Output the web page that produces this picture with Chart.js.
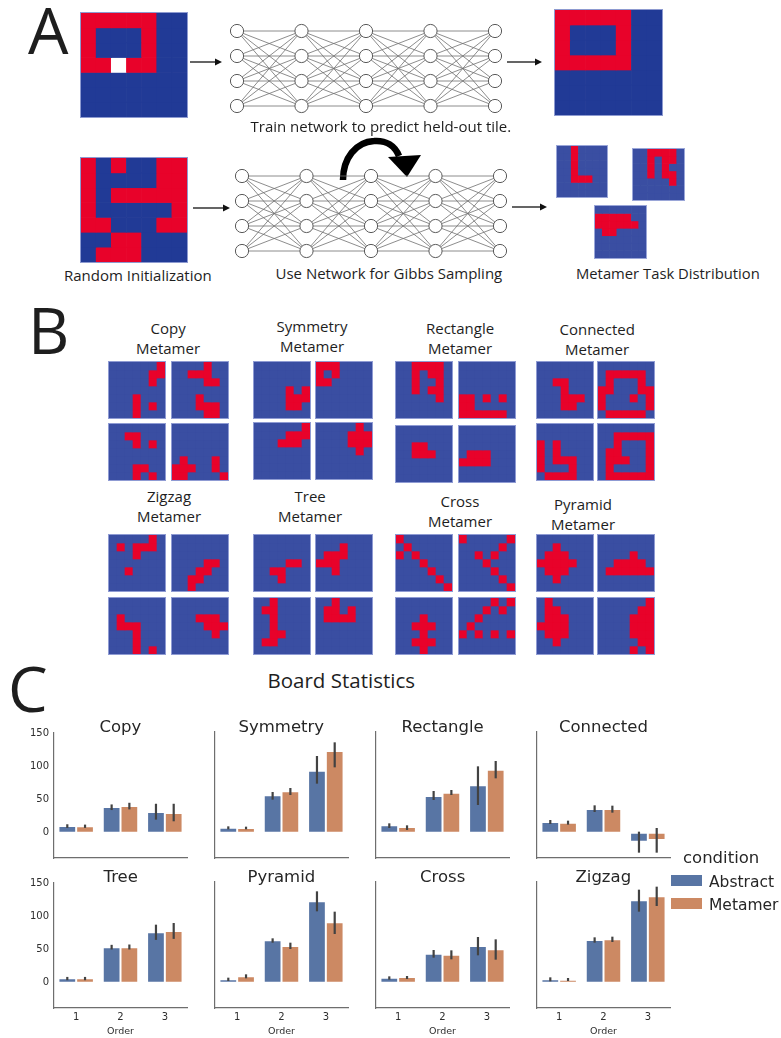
<!DOCTYPE html>
<html>
<head>
<meta charset="utf-8">
<script src="https://cdn.jsdelivr.net/npm/chart.js@4.4.1/dist/chart.umd.min.js"></script>
<style>
  html, body { margin: 0; padding: 0; background: #fff; }
  body { width: 781px; height: 1038px; position: relative; overflow: hidden; }
  .abs { position: absolute; }
  canvas { display: block; }
  .txt { position: absolute; white-space: nowrap; line-height: 1; }
</style>
</head>
<body>
<svg id="connectors" class="abs" width="781" height="300" style="left:0;top:0"></svg>
<script>
// ---------- Panel A boards (7x7; R = red tile, . = blue tile, W = held-out tile) ----------
const HELD_OUT_BOARD  = ['RRRRR..','R...R..','R...R..','RRWRR..','.......','.......','.......'];
const COMPLETED_BOARD = ['RRRRR..','R...R..','R...R..','RRRRR..','.......','.......','.......'];
const RANDOM_INIT_BOARD = ['R.R..RR','R....RR','R.RRRRR','R.....R','RR...RR','..RR...','.RRR...'];
const SAMPLED_BOARDS = [
  ['..R....','..R....','..R....','..R....','..RRR..','.......','.......'],
  ['..RRRR.','..R.RR.','..R.R..','..R.RR.','.....R.','.......','.......'],
  ['.......','RRRRR..','RRRRRR.','.RR....','.......','.......','.......']
];
const LAYER_SIZES = [4, 4, 4, 4, 4];

// ---------- Panel B metamer boards ----------
const COPY_BOARDS = [
  ['......R','.....RR','.....R.','.......','...R...','...R.R.','...R...'],
  ['....R..','..RRR..','....RR.','.......','...R...','...RRR.','....RR.'],
  ['.......','..RR...','...R.R.','.......','.......','...RR..','...R.R.'],
  ['.......','.......','.......','.......','.R...R.','RRR..R.','RR....R']
];
const SYMMETRY_BOARDS = [
  ['.......','.......','.......','....R.R','....RRR','....RR.','.......'],
  ['RRR....','R.R....','RR.....','.......','.......','.......','.......'],
  ['......R','....RRR','...RRR.','.......','.......','.......','.......'],
  ['.....R.','....RRR','....RRR','.....R.','.......','.......','.......']
];
const RECTANGLE_BOARDS = [
  ['..RRRR.','..R.RR.','..R..R.','..R.RR.','.....R.','.......','.......'],
  ['.......','.......','.......','.......','RR.R.R.','RR.....','RRRRRR.'],
  ['.......','.......','..RR...','..RRR..','.......','.......','.......'],
  ['.......','.......','.......','.RRR...','RRRR...','.......','.......']
];
const CONNECTED_BOARDS = [
  ['.......','.......','..RR...','...R...','...RRR.','...RR..','.......'],
  ['.......','.RRRRR.','.R...R.','RR...RR','R...R.R','R.....R','.RRRRR.'],
  ['.......','.......','R.R....','R.R....','R.RRR..','R...R..','.RRRR..'],
  ['.......','..RRRRR','..R...R','.RR...R','.RRR..R','.R....R','.RRRRRR']
];
const ZIGZAG_BOARDS = [
  ['.....R.','.R.RRR.','...R...','.......','..R....','.......','.......'],
  ['.......','.......','.......','....RR.','...RR..','..RR...','..R....'],
  ['.......','.......','.R.....','.RRR...','...R...','...R...','...R.R.'],
  ['.......','.......','...RRR.','....RRR','.....R.','.......','.......']
];
const TREE_BOARDS = [
  ['.......','.......','.......','....RR.','..RR...','...R...','.......'],
  ['.......','...R...','.RRR...','RRR....','..R....','.......','.......'],
  ['..R....','.RR....','..R....','..R....','..RR...','.RR....','.......'],
  ['..R....','.RR.R..','.RRRR..','.......','.......','.......','.......']
];
const CROSS_BOARDS = [
  ['R......','.R.....','R.R....','...R...','....R..','.....R.','......R'],
  ['R.....R','.....R.','..R.R..','...R...','....R..','.....R.','......R'],
  ['.......','.......','...R...','..RRR..','...R...','..RRR..','...R...'],
  ['....R.R','...R.R.','..R....','.R.....','R.R.R.R','.......','.......']
];
const PYRAMID_BOARDS = [
  ['.......','..R....','.RRR...','RRRRR..','.RRR...','..R....','.......'],
  ['.......','.......','....R..','..RRRR.','.RRRRRR','.......','.......'],
  ['.R.....','.RR....','.RRR...','RRRR...','.RRR...','..R....','.......'],
  ['......R','.....RR','....RRR','....RRR','....RRR','.....RR','....R.R']
];

// ---------- Panel C: board statistics ----------
const TASKS  = ['Copy', 'Symmetry', 'Rectangle', 'Connected', 'Tree', 'Pyramid', 'Cross', 'Zigzag'];
const ORDERS = ['1', '2', '3'];
const Y_TICKS = [0, 50, 100, 150];
const CONDITIONS = ['Abstract', 'Metamer'];
const ABSTRACT_MEAN = [[10.5, 39, 31.5], [7.5, 56, 93], [11, 55, 71], [16, 35.5, -13.5],
                       [7, 54, 76.5], [5, 63.5, 122], [7.5, 43.5, 55], [5, 64, 123.5]];
const ABSTRACT_LO   = [[7.5, 34.5, 20], [5, 49.5, 73.5], [7, 49, 41.5], [13, 31, -30],
                       [4, 50.5, 65], [2.5, 60, 107], [4.5, 37.5, 41], [2, 60, 106.5]];
const ABSTRACT_HI   = [[13, 43, 44], [9.5, 61, 115], [14, 62.5, 99.5], [19, 41, 1.5],
                       [9, 57.5, 88], [7.5, 66.5, 137], [9.5, 49, 68.5], [8, 68, 139.5]];
const METAMER_MEAN  = [[10, 40.5, 30], [7, 62, 122.5], [8.5, 60, 94.5], [15, 35.5, -11],
                       [7, 54, 78.5], [9.5, 55, 90.5], [8.5, 42, 50], [4.5, 65, 129.5]];
const METAMER_LO    = [[7.5, 35.5, 17.5], [5, 56.5, 98], [4, 56.5, 81.5], [12, 30, -30],
                       [4, 50.5, 66.5], [6.5, 50.5, 73], [5.5, 35, 34.5], [2.5, 61, 115]];
const METAMER_HI    = [[12.5, 45.5, 44], [9, 67, 135.5], [11, 64, 107.5], [18, 40.5, 7],
                       [9, 58, 90.5], [12.5, 60, 106.5], [10, 48.5, 65], [7, 69, 144]];

// ---------- colours ----------
const RED = '#e8022a';
const BLUE_DARK = '#213a96';
const BLUE = '#3a4ea2';
const BAR_BLUE = '#5875a4';
const BAR_ORANGE = '#cc8963';
const ERR_COLOR = '#424242';
const SPINE = '#6e6e6e';
const TICK = '#2e2e2e';
const INK = '#1e1e1e';

Chart.defaults.animation = false;
Chart.defaults.responsive = false;
Chart.defaults.devicePixelRatio = 1;
Chart.defaults.events = [];
Chart.defaults.plugins.legend.display = false;
Chart.defaults.plugins.tooltip.enabled = false;

function makeCanvas(x, y, w, h) {
  const cv = document.createElement('canvas');
  cv.width = w; cv.height = h;
  cv.className = 'abs';
  cv.style.left = x + 'px'; cv.style.top = y + 'px';
  document.body.appendChild(cv);
  return cv;
}

// Text placed by its baseline
function place(text, o) {
  const d = document.createElement('div');
  d.className = 'txt';
  d.style.font = `${o.weight || 400} ${o.size}px ${o.family}`;
  d.style.color = o.color || INK;
  if (o.spacing) d.style.letterSpacing = o.spacing + 'px';
  d.appendChild(document.createTextNode(text));
  const probe = document.createElement('span');
  probe.style.cssText = 'display:inline-block;width:0;height:0;vertical-align:baseline';
  d.appendChild(probe);
  document.body.appendChild(d);
  const base = probe.offsetTop;
  const w = d.offsetWidth;
  const align = o.align || 'left';
  const left = align === 'center' ? o.x - w / 2 : align === 'right' ? o.x - w : o.x;
  d.style.left = left + 'px';
  d.style.top = (o.baseline - base) + 'px';
  d.style.zIndex = 5;
  return d;
}

// A board: one stacked bar per tile column, one dataset per tile row
function drawBoard(rows, x, y, w, h, blue, border) {
  const holder = document.createElement('div');
  holder.className = 'abs';
  holder.style.cssText = `left:${x}px;top:${y}px;width:${w}px;height:${h}px;box-sizing:border-box;border:1px solid ${border};`;
  const cv = document.createElement('canvas');
  cv.width = w - 2; cv.height = h - 2;
  holder.appendChild(cv);
  document.body.appendChild(holder);
  const palette = { 'R': RED, '.': blue, 'W': '#ffffff' };
  const nRows = rows.length;
  const datasets = rows.map(row => ({
    data: Array.from(row, () => 1),
    backgroundColor: Array.from(row, ch => palette[ch]),
    borderWidth: 0,
    stack: 'board'
  }));
  new Chart(cv, {
    type: 'bar',
    data: { labels: Array.from(rows[0], (_, c) => String(c)), datasets },
    options: {
      layout: { padding: 0 },
      datasets: { bar: { categoryPercentage: 1, barPercentage: 1 } },
      scales: {
        x: { display: false, stacked: true, offset: true },
        y: { display: false, stacked: true, min: 0, max: nRows, reverse: true }
      }
    }
  });
}

// Fully connected network diagram
function drawNetwork(x, y, w, h) {
  const pad = 12;
  const cv = makeCanvas(x - pad, y - pad, w + 2 * pad, h + 2 * pad);
  const nodes = [];
  const edges = [];
  const maxN = Math.max(...LAYER_SIZES);
  LAYER_SIZES.forEach((n, l) => { for (let i = 0; i < n; i++) nodes.push({ x: l, y: i }); });
  for (let l = 0; l < LAYER_SIZES.length - 1; l++) {
    for (let i = 0; i < LAYER_SIZES[l]; i++) {
      for (let j = 0; j < LAYER_SIZES[l + 1]; j++) {
        edges.push({ x: l, y: i }, { x: l + 1, y: j }, { x: l, y: null });
      }
    }
  }
  new Chart(cv, {
    type: 'scatter',
    data: {
      datasets: [
        { data: nodes, order: 0, pointRadius: 6.6, pointBackgroundColor: '#ffffff',
          pointBorderColor: '#5a5a5a', pointBorderWidth: 1, showLine: false, clip: false },
        { data: edges, order: 1, pointRadius: 0, showLine: true, spanGaps: false,
          borderColor: '#707070', borderWidth: 0.8, clip: false }
      ]
    },
    options: {
      layout: { padding: pad },
      scales: {
        x: { display: false, type: 'linear', min: 0, max: LAYER_SIZES.length - 1 },
        y: { display: false, type: 'linear', min: 0, max: maxN - 1, reverse: true }
      }
    }
  });
}

// ---------------- Panel A ----------------
place('A', { x: 28, baseline: 54, size: 64, family: 'Open Sans' });
drawBoard(HELD_OUT_BOARD, 80, 12, 108, 106, BLUE_DARK, '#8d9ad0');
drawBoard(COMPLETED_BOARD, 554, 9, 109, 107, BLUE_DARK, '#8d9ad0');
drawBoard(RANDOM_INIT_BOARD, 80, 157, 108, 106, BLUE_DARK, '#8d9ad0');
drawBoard(SAMPLED_BOARDS[0], 556, 145, 52, 53, BLUE, '#9aa6d8');
drawBoard(SAMPLED_BOARDS[1], 632, 148, 53, 53, BLUE, '#9aa6d8');
drawBoard(SAMPLED_BOARDS[2], 594, 205, 53, 54, BLUE, '#9aa6d8');
drawNetwork(237, 31, 258, 75);
drawNetwork(242, 176, 258, 75);

place('Train network to predict held-out tile.', { x: 381, baseline: 132, size: 15, family: 'Open Sans', align: 'center' });
place('Random Initialization', { x: 138, baseline: 280.5, size: 15, family: 'Open Sans', align: 'center' });
place('Use Network for Gibbs Sampling', { x: 389, baseline: 279, size: 15, family: 'Open Sans', align: 'center' });
place('Metamer Task Distribution', { x: 668, baseline: 279, size: 14.8, family: 'Open Sans', align: 'center' });

// straight connectors and the sampling loop arrow
(function () {
  const svg = document.getElementById('connectors');
  const links = [[190, 62, 222, 62], [507, 62, 542, 62], [193, 208, 230, 208], [512, 207, 547, 207]];
  let s = '';
  links.forEach(([x1, y1, x2, y2]) => {
    s += `<line x1="${x1}" y1="${y1}" x2="${x2 - 6}" y2="${y2}" stroke="#111" stroke-width="1.3"/>`;
    s += `<polygon points="${x2},${y2} ${x2 - 7},${y2 - 3.5} ${x2 - 7},${y2 + 3.5}" fill="#111"/>`;
  });
  s += '<path d="M343,180 C343,158 356,142 374,141 C386,140 395,146 399,156" stroke="#000" stroke-width="6.5" fill="none"/>';
  s += '<polygon points="388,157 421,155 407,177" fill="#000"/>';
  svg.innerHTML = s;
})();

// ---------------- Panel B ----------------
place('B', { x: 28, baseline: 354, size: 64, family: 'Open Sans' });
const GROUPS = [
  { name: 'Copy',      boards: COPY_BOARDS,      cx: 168, base: 334, xs: [108, 171], ys: [361, 423] },
  { name: 'Symmetry',  boards: SYMMETRY_BOARDS,  cx: 312, base: 331.5, xs: [253, 315], ys: [361, 422] },
  { name: 'Rectangle', boards: RECTANGLE_BOARDS, cx: 460, base: 334, xs: [395, 458], ys: [361, 425] },
  { name: 'Connected', boards: CONNECTED_BOARDS, cx: 597, base: 335, xs: [536, 597], ys: [361, 423] },
  { name: 'Zigzag',    boards: ZIGZAG_BOARDS,    cx: 169, base: 502, xs: [108, 171], ys: [534, 597] },
  { name: 'Tree',      boards: TREE_BOARDS,      cx: 310, base: 502, xs: [253, 315], ys: [534, 597] },
  { name: 'Cross',     boards: CROSS_BOARDS,     cx: 460, base: 507, xs: [395, 458], ys: [534, 597] },
  { name: 'Pyramid',   boards: PYRAMID_BOARDS,   cx: 583, base: 510, xs: [536, 597], ys: [534, 597] }
];
GROUPS.forEach(g => {
  place(g.name, { x: g.cx, baseline: g.base, size: 15, family: 'Open Sans', align: 'center' });
  place('Metamer', { x: g.cx, baseline: g.base + 20, size: 15, family: 'Open Sans', align: 'center' });
  g.boards.forEach((b, k) => {
    drawBoard(b, g.xs[k % 2], g.ys[Math.floor(k / 2)], 58, 58, BLUE, '#8f9bd3');
  });
});

// ---------------- Panel C ----------------
place('C', { x: 8, baseline: 712, size: 63, family: 'Open Sans' });
place('Board Statistics', { x: 341, baseline: 688, size: 20.5, family: 'Open Sans', align: 'center' });

const errorBars = {
  id: 'errorBars',
  afterDatasetsDraw(chart, args, opts) {
    const { ctx } = chart;
    const y = chart.scales.y;
    chart.data.datasets.forEach((ds, i) => {
      const meta = chart.getDatasetMeta(i);
      meta.data.forEach((bar, k) => {
        ctx.save();
        ctx.strokeStyle = ERR_COLOR;
        ctx.lineWidth = 2.2;
        ctx.beginPath();
        ctx.moveTo(bar.x, y.getPixelForValue(opts.lo[i][k]));
        ctx.lineTo(bar.x, y.getPixelForValue(opts.hi[i][k]));
        ctx.stroke();
        ctx.restore();
      });
    });
  }
};

const SPINE_X = [54, 215, 376, 537];
const AXES_TOP = [732, 882];
const AXES_W = 133, AXES_H = 126, Y_AXIS_W = 45, X_AXIS_H = 29, TOP_PAD = 10;

TASKS.forEach((task, i) => {
  const col = i % 4, row = Math.floor(i / 4);
  const left = SPINE_X[col] - Y_AXIS_W;
  const top = AXES_TOP[row] - TOP_PAD;
  const cv = makeCanvas(left, top, Y_AXIS_W + AXES_W + 3, TOP_PAD + AXES_H + X_AXIS_H);
  const tickFont = { family: 'DejaVu Sans', size: 10 };
  new Chart(cv, {
    type: 'bar',
    data: {
      labels: ORDERS,
      datasets: [
        { label: CONDITIONS[0], data: ABSTRACT_MEAN[i], backgroundColor: BAR_BLUE },
        { label: CONDITIONS[1], data: METAMER_MEAN[i], backgroundColor: BAR_ORANGE }
      ]
    },
    options: {
      layout: { padding: { top: TOP_PAD, right: 3, bottom: 0, left: 0 } },
      datasets: { bar: { categoryPercentage: 0.8, barPercentage: 1, borderWidth: 1,
                         borderColor: 'rgba(255,255,255,0.35)', borderSkipped: false } },
      plugins: { errorBars: { lo: [ABSTRACT_LO[i], METAMER_LO[i]], hi: [ABSTRACT_HI[i], METAMER_HI[i]] } },
      scales: {
        x: {
          offset: true,
          grid: { display: false, drawTicks: false },
          border: { display: true, color: SPINE, width: 1.2 },
          ticks: { display: row === 1, color: TICK, font: tickFont, padding: 3 },
          title: { display: row === 1, text: 'Order', color: TICK,
                   font: { family: 'DejaVu Sans', size: 9.5 }, padding: { top: 0, bottom: 0 } },
          afterFit: s => { s.height = X_AXIS_H; }
        },
        y: {
          min: -38, max: 151,
          grid: { display: false, drawTicks: false },
          border: { display: true, color: SPINE, width: 1.2 },
          afterBuildTicks: s => { s.ticks = Y_TICKS.map(v => ({ value: v })); },
          ticks: { display: col === 0, color: TICK, font: tickFont, padding: 5 },
          afterFit: s => { s.width = Y_AXIS_W; }
        }
      }
    },
    plugins: [errorBars]
  });
  place(task, { x: SPINE_X[col] + AXES_W / 2, baseline: AXES_TOP[row] - 0.5, size: 16.5,
                family: 'DejaVu Sans', align: 'center', color: '#262626' });
});

// legend
(function () {
  const sw = [[BAR_BLUE, 875], [BAR_ORANGE, 898]];
  sw.forEach(([c, y]) => {
    const d = document.createElement('div');
    d.className = 'abs';
    d.style.cssText = `left:671px;top:${y}px;width:31px;height:11px;background:${c};`;
    document.body.appendChild(d);
  });
  place('condition', { x: 683, baseline: 863, size: 16.5, family: 'DejaVu Sans', color: '#262626' });
  place(CONDITIONS[0], { x: 709, baseline: 886.5, size: 15.5, family: 'DejaVu Sans', color: '#262626' });
  place(CONDITIONS[1], { x: 709, baseline: 909.5, size: 15.5, family: 'DejaVu Sans', color: '#262626' });
})();
</script>
</body>
</html>
